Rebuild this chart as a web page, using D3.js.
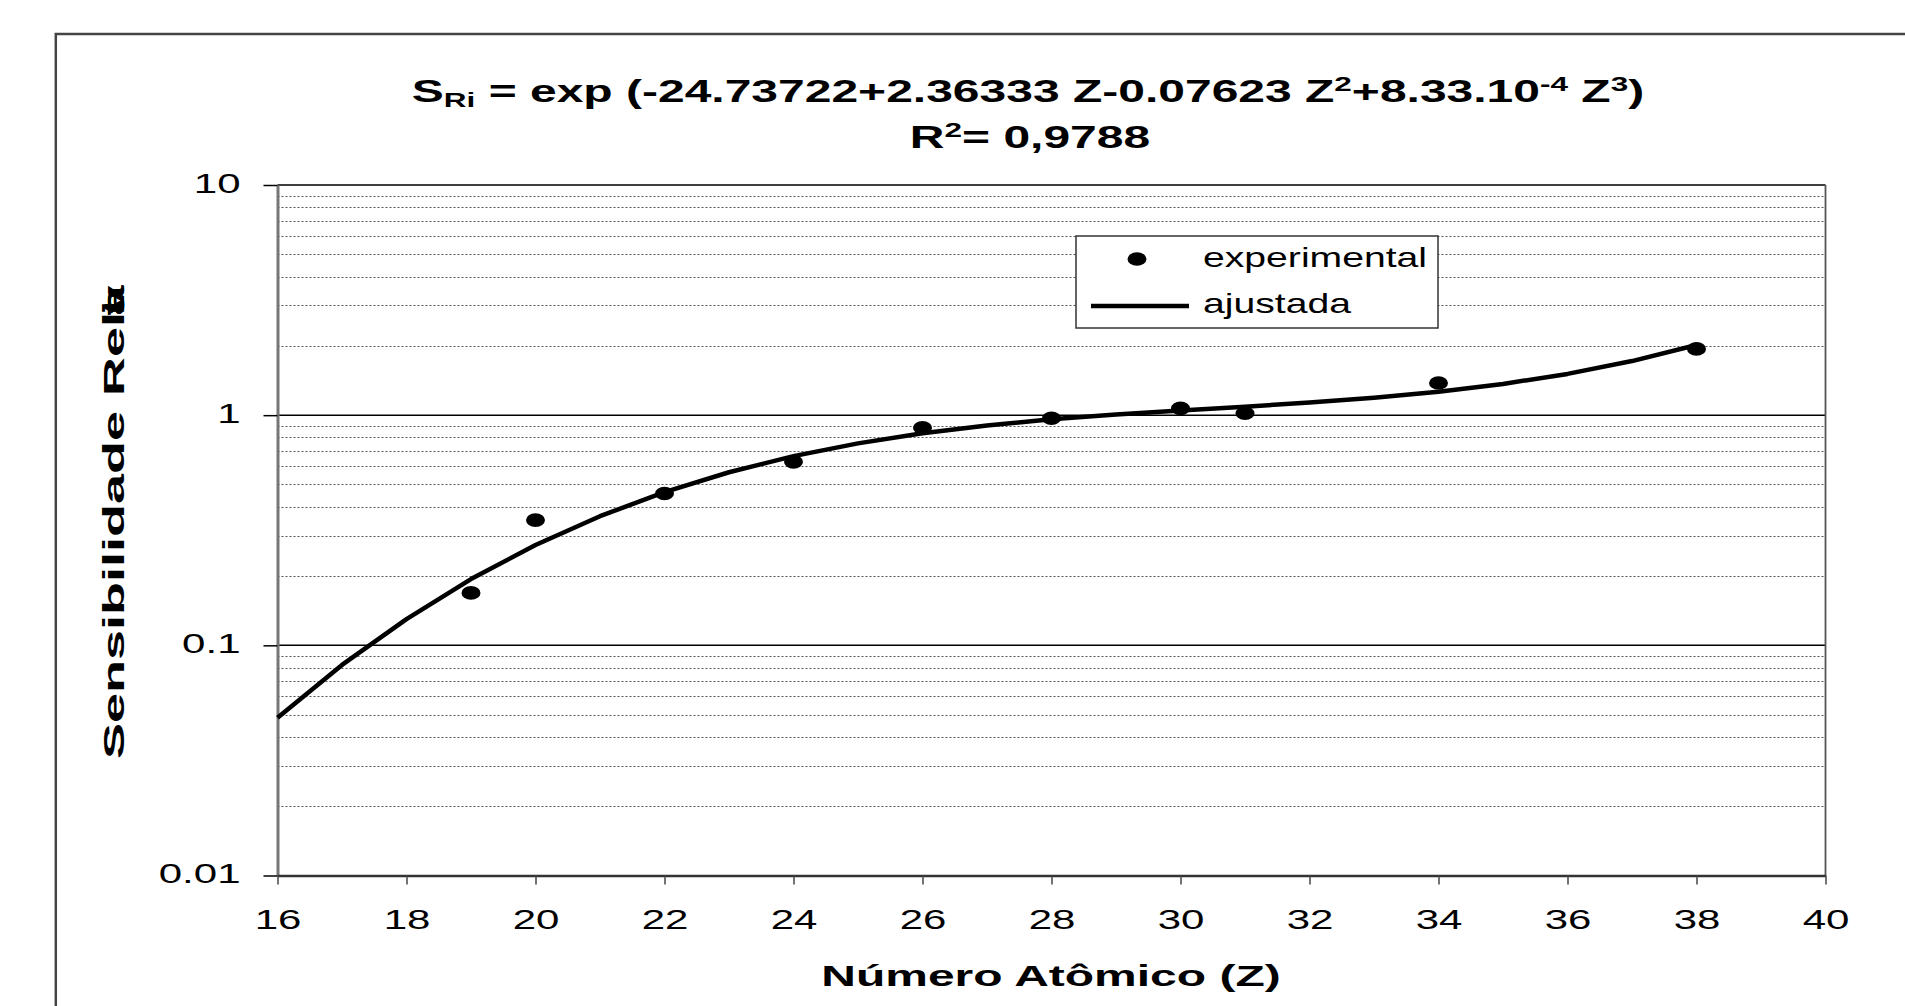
<!DOCTYPE html>
<html>
<head>
<meta charset="utf-8">
<script src="https://cdn.jsdelivr.net/npm/d3@7"></script>
<style>
  html, body { margin: 0; padding: 0; background: #fff; overflow: hidden; }
  svg { display: block; }
  text { font-family: "Liberation Sans", Arial, sans-serif; fill: #000; }
</style>
</head>
<body>
<svg id="chart" width="1905" height="1006"></svg>
<script>
// ---- data ----
const expZ = [19, 20, 22, 24, 26, 28, 30, 31, 34, 38];
const expS = [0.169, 0.35, 0.457, 0.627, 0.881, 0.97, 1.07, 1.02, 1.38, 1.94];

const fitZ = [16, 17, 18, 19, 20, 21, 22, 23, 24, 25, 26, 27, 28, 29, 30, 31, 32, 33, 34, 35, 36, 37, 38];
const fitS = [0.0485, 0.0822, 0.130, 0.194, 0.273, 0.364, 0.463, 0.565, 0.664, 0.754, 0.835, 0.902, 0.959,
              1.007, 1.048, 1.089, 1.134, 1.191, 1.264, 1.367, 1.511, 1.718, 2.018];

const xTicks = [16, 18, 20, 22, 24, 26, 28, 30, 32, 34, 36, 38, 40];
const yTicks = [0.01, 0.1, 1, 10];
const yTickLabels = ["0.01", "0.1", "1", "10"];
const minorMultipliers = [2, 3, 4, 5, 6, 7, 8, 9];
const legendLabels = ["experimental", "ajustada"];
const xTitle = "Número Atômico (Z)";
const yTitle = "Sensibilidade Rel";
const yTitleGarble = ["a", "t", "i", "v", "a"];

// ---- layout ----
const svg = d3.select("#chart");
const L = 277.5, R = 1825.5, T = 185, B = 875.5;
const SX = 1.5; // horizontal stretch of the text in the picture

const x = d3.scaleLinear().domain([16, 40]).range([L, R]);
const y = d3.scaleLog().domain([0.01, 10]).range([B, T]);

svg.append("rect").attr("width", 1905).attr("height", 1006).attr("fill", "#fff");

// outer frame (extends beyond the page at right/bottom)
svg.append("rect")
  .attr("x", 55.8).attr("y", 34).attr("width", 2000).attr("height", 1100)
  .attr("fill", "none").attr("stroke", "#444").attr("stroke-width", 2.5);

// minor grid lines
const minorVals = [];
[0.01, 0.1, 1].forEach(d => minorMultipliers.forEach(k => minorVals.push(k * d)));
svg.append("g").selectAll("line").data(minorVals).join("line")
  .attr("x1", L).attr("x2", R)
  .attr("y1", d => Math.round(y(d)) + 0.5).attr("y2", d => Math.round(y(d)) + 0.5)
  .attr("stroke", "#555").attr("stroke-width", 1).attr("stroke-dasharray", "2,2");

// major grid lines
svg.append("g").selectAll("line").data([0.1, 1, 10]).join("line")
  .attr("x1", L).attr("x2", R)
  .attr("y1", d => y(d)).attr("y2", d => y(d))
  .attr("stroke", "#000").attr("stroke-width", 1.5);

// right border
svg.append("line").attr("x1", R).attr("x2", R).attr("y1", T).attr("y2", B)
  .attr("stroke", "#555").attr("stroke-width", 1.8);

// Y axis
const yAxis = svg.append("g").attr("transform", `translate(${L},0)`)
  .call(d3.axisLeft(y).tickValues(yTicks).tickSize(14).tickSizeOuter(0)
    .tickFormat((d, i) => yTickLabels[i]));
yAxis.select(".domain").attr("stroke", "#777").attr("stroke-width", 3);
yAxis.selectAll(".tick line").attr("stroke", "#000").attr("stroke-width", 1.5);
yAxis.selectAll(".tick text")
  .attr("x", null).attr("dy", null)
  .attr("transform", "translate(-37,7) scale(" + SX + ",1)")
  .attr("text-anchor", "end")
  .style("font-size", "28px").attr("fill", "#000");

// X axis
const xAxis = svg.append("g").attr("transform", `translate(0,${B})`)
  .call(d3.axisBottom(x).tickValues(xTicks).tickSize(9).tickSizeOuter(0));
xAxis.select(".domain").attr("stroke", "#333").attr("stroke-width", 2.5);
xAxis.selectAll(".tick line").attr("stroke", "#444").attr("stroke-width", 1.5);
xAxis.selectAll(".tick text")
  .attr("y", null).attr("dy", null)
  .attr("transform", "translate(0,53.5) scale(" + SX + ",1)")
  .attr("text-anchor", "middle")
  .style("font-size", "28px").attr("fill", "#000");

// fitted line
const line = d3.line().x((d, i) => x(fitZ[i])).y(d => y(d));
svg.append("path").datum(fitS)
  .attr("d", line).attr("fill", "none")
  .attr("stroke", "#000").attr("stroke-width", 4.5).attr("stroke-linejoin", "round");

// experimental points
svg.append("g").selectAll("ellipse").data(expS).join("ellipse")
  .attr("cx", (d, i) => x(expZ[i])).attr("cy", d => y(d))
  .attr("rx", 9.5).attr("ry", 6.8).attr("fill", "#000");

// title
const t1 = svg.append("text")
  .attr("transform", "translate(1028,102) scale(" + SX + ",1)")
  .attr("text-anchor", "middle").style("font-size", "32px").style("font-weight", "bold");
t1.append("tspan").text("S");
t1.append("tspan").attr("dy", 5).style("font-size", "21px").text("Ri");
t1.append("tspan").attr("dy", -5).text(" = exp (-24.73722+2.36333 Z-0.07623 Z");
t1.append("tspan").attr("dy", -11).style("font-size", "21px").text("2");
t1.append("tspan").attr("dy", 11).text("+8.33.10");
t1.append("tspan").attr("dy", -11).style("font-size", "21px").text("-4");
t1.append("tspan").attr("dy", 11).text(" Z");
t1.append("tspan").attr("dy", -11).style("font-size", "21px").text("3");
t1.append("tspan").attr("dy", 11).text(")");

const t2 = svg.append("text")
  .attr("transform", "translate(1030,148) scale(" + SX + ",1)")
  .attr("text-anchor", "middle").style("font-size", "32px").style("font-weight", "bold");
t2.append("tspan").text("R");
t2.append("tspan").attr("dy", -11).style("font-size", "21px").text("2");
t2.append("tspan").attr("dy", 11).text("= 0,9788");

// x title
svg.append("text")
  .attr("transform", "translate(1051,986) scale(1.6,1)")
  .attr("text-anchor", "middle").style("font-size", "30px").style("font-weight", "bold")
  .text(xTitle);

// y title (with the overlapped glyphs at the end as in the picture)
const yT = svg.append("g").attr("transform", "translate(124,759) rotate(-90) scale(1.8,1)");
const yMain = yT.append("text").style("font-size", "30px").style("font-weight", "bold").text(yTitle);
const endX = yMain.node().getComputedTextLength();
yT.selectAll("text.g").data(yTitleGarble).join("text").attr("class", "g")
  .attr("x", endX - 2)
  .style("font-size", "30px").style("font-weight", "bold").text(d => d);

// legend
const lg = svg.append("g");
lg.append("rect").attr("x", 1076).attr("y", 236).attr("width", 362).attr("height", 92)
  .attr("fill", "#fff").attr("stroke", "#333").attr("stroke-width", 1.5);
lg.append("ellipse").attr("cx", 1137).attr("cy", 259).attr("rx", 9.5).attr("ry", 6.8).attr("fill", "#000");
lg.append("line").attr("x1", 1091).attr("x2", 1189).attr("y1", 306).attr("y2", 306)
  .attr("stroke", "#000").attr("stroke-width", 4.5);
lg.selectAll("text").data(legendLabels).join("text")
  .attr("transform", (d, i) => `translate(1203,${i === 0 ? 267 : 313}) scale(1.45,1)`)
  .style("font-size", "27px").text(d => d);
</script>
</body>
</html>
